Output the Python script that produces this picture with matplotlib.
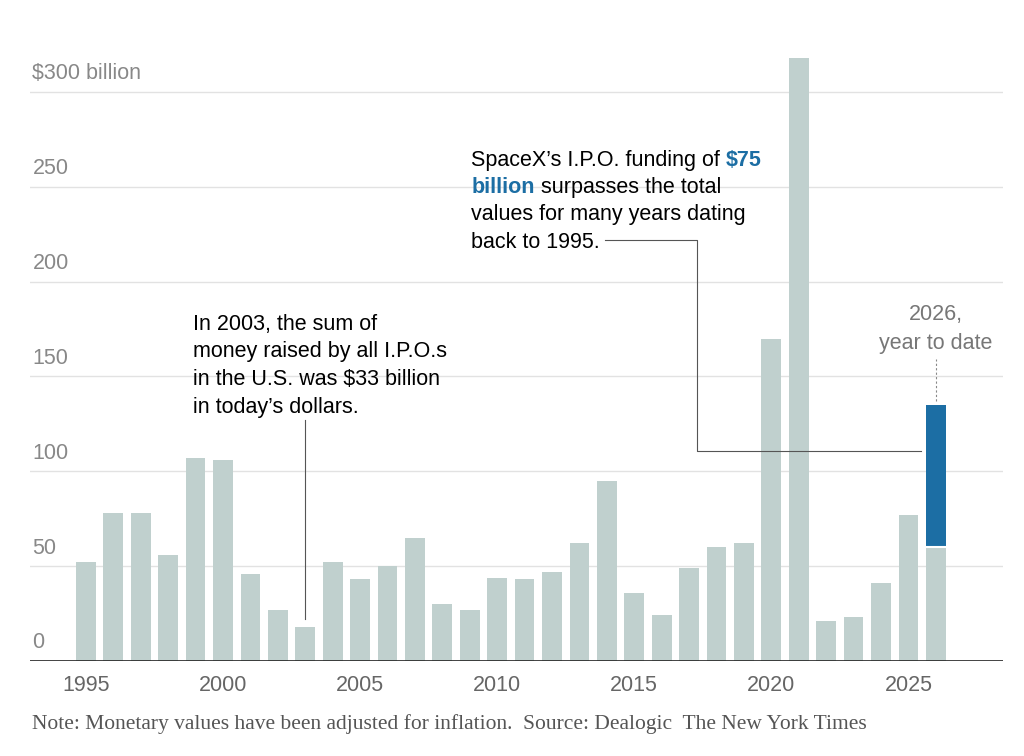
import matplotlib.pyplot as plt
import numpy as np

years = np.arange(1995, 2027)
values = [52, 78, 78, 56, 107, 106, 46, 27, 18, 52, 43, 50, 65, 30, 27, 44,
          43, 47, 62, 95, 36, 24, 49, 60, 62, 170, 318, 21, 23, 41, 77, 60]
spacex = 75  # added on top of 2026
y_ticks = [0, 50, 100, 150, 200, 250, 300]
y_labels = ['0', '50', '100', '150', '200', '250', '$300 billion']
x_ticks = [1995, 2000, 2005, 2010, 2015, 2020, 2025]

grey = '#c0d0ce'
blue = '#1c6ea4'
sans = ['Liberation Sans', 'DejaVu Sans']
fs = 15.5

fig = plt.figure(figsize=(10.24, 7.56), dpi=100)
ax = fig.add_axes([30/1024, 95/756, 973/1024, 626/756])
ax.set_xlim(1992.96, 2028.45)
ax.set_ylim(0, 330)

for t, lab in zip(y_ticks, y_labels):
    if t > 0:
        ax.axhline(t, color='#e2e2e2', lw=1, zorder=0)
    ax.text(1993.05, t + 4, lab, color='#888888', fontsize=fs, family=sans, va='bottom')

ax.bar(years, values, width=0.72, color=grey, zorder=2)
ax.bar(years[-1], spacex, bottom=values[-1], width=0.72, color=blue, zorder=2)
ax.plot([2025.64, 2026.36], [values[-1], values[-1]], color='white', lw=1.5, zorder=3)

ax.axhline(0, color='#222222', lw=1.2, zorder=4)
for s in ax.spines.values():
    s.set_visible(False)
ax.set_yticks([])
ax.set_xticks(x_ticks)
ax.set_xticklabels([str(x) for x in x_ticks], fontsize=fs, color='#666666', family=sans)
ax.tick_params(axis='x', length=0, pad=10)

# 2003 annotation
ax.plot([2003, 2003], [22, 127], color='#555555', lw=0.8, zorder=5)
lines_2003 = ['In 2003, the sum of', 'money raised by all I.P.O.s',
              'in the U.S. was $33 billion', 'in today\u2019s dollars.']
for yy, line in zip([177.6, 163.4, 148.6, 133.6], lines_2003):
    ax.text(1998.9, yy, line, fontsize=fs, family=sans, va='center')

# SpaceX annotation
ax.plot([2013.94, 2017.3, 2017.3, 2025.45], [222, 222, 110.7, 110.7],
        color='#555555', lw=0.8, zorder=5, clip_on=False)
t1 = ax.text(2009.05, 264, 'SpaceX\u2019s I.P.O. funding of ', fontsize=fs, family=sans, va='center')
ax.annotate('$75', xy=(1, 0.5), xycoords=t1, fontsize=fs, family=sans, va='center',
            color=blue, fontweight='bold')
t2 = ax.text(2009.05, 249.6, 'billion', fontsize=fs, family=sans, va='center',
             color=blue, fontweight='bold')
ax.annotate(' surpasses the total', xy=(1, 0.5), xycoords=t2, fontsize=fs, family=sans, va='center')
ax.text(2009.05, 235.2, 'values for many years dating', fontsize=fs, family=sans, va='center')
ax.text(2009.05, 220.5, 'back to 1995.', fontsize=fs, family=sans, va='center')

ax.text(2026, 182.4, '2026,', fontsize=fs, family=sans, color='#777777', ha='center', va='center')
ax.text(2026, 167.6, 'year to date', fontsize=fs, family=sans, color='#777777', ha='center', va='center')
ax.plot([2026, 2026], [137, 159], color='#888888', lw=0.8, ls=(0, (2, 2)))

fig.text(32/1024, 32/756, 'Note: Monetary values have been adjusted for inflation.  Source: Dealogic  The New York Times',
         fontsize=15.5, family=['Liberation Serif', 'DejaVu Serif'], color='#555555', va='center')

fig.savefig('out.png', dpi=100)
